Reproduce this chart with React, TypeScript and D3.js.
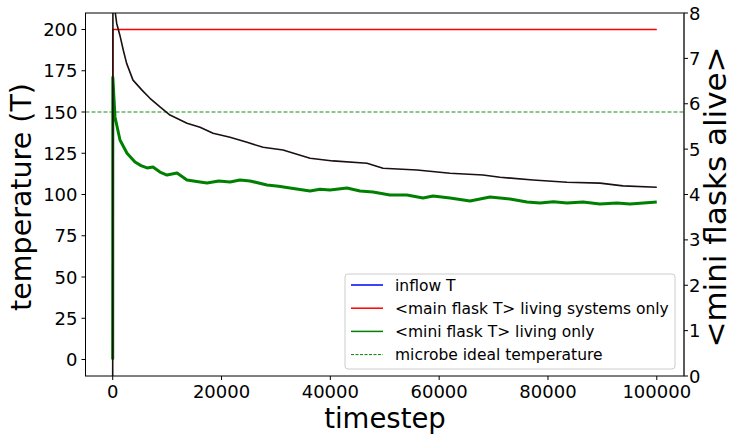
import * as d3 from "d3";

// timestep samples
const blackSteps = [0, 40, 735, 1340, 1950, 2560, 3730, 5380, 6850, 8690, 10530, 13650, 16050, 18440, 21560, 24690, 27630, 31300, 36270, 40500, 46740, 49680, 55930, 62000, 68060, 71190, 77250, 83500, 89560, 93790, 100000];
// <mini flasks alive> (right axis)
const blackValues = [0, 8.4, 7.77, 7.5, 7.18, 6.89, 6.52, 6.3, 6.12, 5.93, 5.75, 5.57, 5.48, 5.35, 5.26, 5.15, 5.04, 4.98, 4.8, 4.74, 4.69, 4.58, 4.54, 4.47, 4.43, 4.38, 4.32, 4.27, 4.25, 4.19, 4.16];

const greenSteps = [0, 20, 420, 1340, 2630, 4100, 5200, 6300, 7400, 8690, 9980, 11820, 13650, 16050, 17330, 19500, 21560, 23400, 25230, 28350, 30500, 32580, 36270, 38100, 39940, 43060, 45450, 47840, 50960, 54090, 57030, 58870, 62000, 65670, 69350, 73020, 76150, 78540, 81000, 83500, 86440, 89560, 92680, 95070, 100000];
// <mini flask T> living only
const greenValues = [0, 171, 147, 133, 125, 119.7, 117.5, 116.1, 116.7, 113.6, 111.8, 113, 108.8, 107.6, 107, 108.2, 107.6, 108.8, 108.2, 105.8, 105, 103.9, 102.1, 103.2, 102.7, 103.9, 102.1, 101.5, 99.7, 99.7, 97.9, 99.1, 97.9, 96.1, 98.5, 97.3, 95.5, 94.8, 95.6, 94.8, 95.5, 94.2, 94.8, 94.2, 95.5];

// <main flask T> living systems only
const redSteps = [0, 30, 100000];
const redValues = [0, 200, 200];

const idealTemp = 150;

const xTicks = [0, 20000, 40000, 60000, 80000, 100000];
const yTicks = [0, 25, 50, 75, 100, 125, 150, 175, 200];
const y2Ticks = [0, 1, 2, 3, 4, 5, 6, 7, 8];

const legendItems = [
  { label: "inflow T", color: "#0000ff", dash: "" },
  { label: "<main flask T> living systems only", color: "#ff0000", dash: "" },
  { label: "<mini flask T> living only", color: "#008000", dash: "" },
  { label: "microbe ideal temperature", color: "#008000", dash: "3,1.5" },
];

const W = 733;
const H = 438;
const left = 85.5;
const right = 684;
const top = 13;
const bottom = 376;
const font = "DejaVu Sans, sans-serif";

export default function App() {
  const x = d3.scaleLinear().domain([-5000, 105000]).range([left, right]);
  const y = d3.scaleLinear().domain([-10, 210]).range([bottom, top]);
  const y2 = d3.scaleLinear().domain([0, 8]).range([bottom, top]);

  const line = d3.line<[number, number]>().x((d) => x(d[0])).y((d) => y(d[1]));
  const line2 = d3.line<[number, number]>().x((d) => x(d[0])).y((d) => y2(d[1]));

  const red = redSteps.map((s, i) => [s, redValues[i]] as [number, number]);
  const green = greenSteps.map((s, i) => [s, greenValues[i]] as [number, number]);
  const black = blackSteps.map((s, i) => [s, blackValues[i]] as [number, number]);

  const legX = 345;
  const legY = 274;
  const rowH = 23.2;

  return (
    <svg width={W} height={H} style={{ position: "absolute", left: 0, top: 0, background: "#fff" }} fontFamily={font}>
      <defs>
        <clipPath id="plot">
          <rect x={left} y={top} width={right - left} height={bottom - top} />
        </clipPath>
      </defs>

      <g clipPath="url(#plot)">
        <line x1={left} x2={right} y1={y(idealTemp)} y2={y(idealTemp)} stroke="#008000" strokeOpacity={0.6} strokeWidth={1.3} strokeDasharray="4,2" />
        <path d={line(red) || ""} fill="none" stroke="#ff0000" strokeWidth={1.5} />
        <path d={line(green) || ""} fill="none" stroke="#008000" strokeWidth={3} strokeLinejoin="round" />
        <path d={line2(black) || ""} fill="none" stroke="#1a1010" strokeWidth={1.6} strokeLinejoin="round" />
      </g>

      {/* frame */}
      <rect x={left} y={top} width={right - left} height={bottom - top} fill="none" stroke="#000" strokeWidth={1} />
      <line x1={right} x2={right} y1={top} y2={bottom} stroke="#444" strokeWidth={1.2} />

      {/* x ticks */}
      {xTicks.map((t) => (
        <g key={t}>
          <line x1={x(t)} x2={x(t)} y1={bottom} y2={bottom + 4} stroke="#000" />
          <text x={x(t)} y={398} fontSize={18} textAnchor="middle" fill="#000">{t}</text>
        </g>
      ))}

      {/* left ticks */}
      {yTicks.map((t) => (
        <g key={t}>
          <line x1={left - 4} x2={left} y1={y(t)} y2={y(t)} stroke="#000" />
          <text x={77.5} y={y(t) + 6.5} fontSize={18} textAnchor="end" fill="#000">{t}</text>
        </g>
      ))}

      {/* right ticks */}
      {y2Ticks.map((t) => (
        <g key={t}>
          <line x1={right} x2={right + 4} y1={y2(t)} y2={y2(t)} stroke="#000" />
          <text x={689} y={y2(t) + 6.5} fontSize={18} textAnchor="start" fill="#000">{t}</text>
        </g>
      ))}

      {/* axis labels */}
      <text x={385} y={428} fontSize={27.5} textAnchor="middle" fill="#000">timestep</text>
      <text transform={`translate(31,197) rotate(-90)`} fontSize={28.5} textAnchor="middle" fill="#000">temperature (T)</text>
      <text transform={`translate(726,197) rotate(-90)`} fontSize={31} textAnchor="middle" fill="#000">{"<mini flasks alive>"}</text>

      {/* legend */}
      <rect x={legX} y={legY} width={330} height={95} rx={3} fill="#fff" fillOpacity={0.8} stroke="#cccccc" strokeWidth={1} />
      {legendItems.map((d, i) => {
        const cy = legY + 11 + i * rowH;
        return (
          <g key={d.label}>
            <line x1={351} x2={383} y1={cy} y2={cy} stroke={d.color} strokeWidth={d.dash ? 1 : 1.5} strokeDasharray={d.dash || undefined} />
            <text x={395} y={cy + 5.5} fontSize={15.5} fill="#000">{d.label}</text>
          </g>
        );
      })}
    </svg>
  );
}
